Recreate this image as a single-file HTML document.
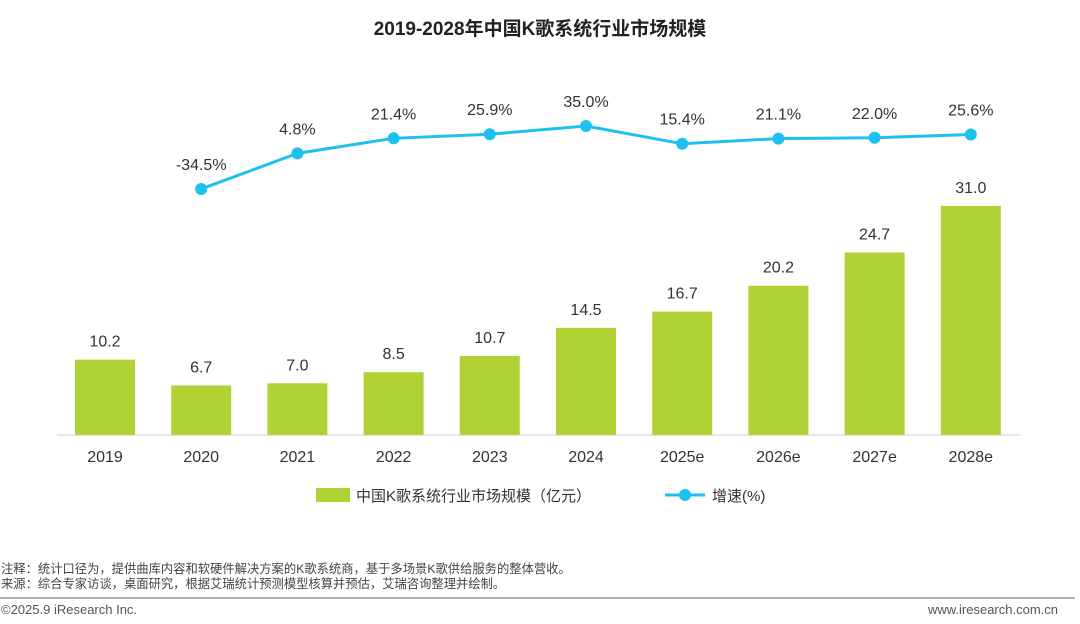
<!DOCTYPE html>
<html><head><meta charset="utf-8"><style>
body{margin:0;width:1080px;height:619px;background:#fff;overflow:hidden;font-family:"Liberation Sans","Noto Sans CJK SC",sans-serif;}
svg text{font-family:"Liberation Sans","Noto Sans CJK SC",sans-serif;}
</style></head><body>
<svg width="1080" height="619">
<text x="540" y="35" text-anchor="middle" font-size="19" font-weight="bold" fill="#222">2019-2028年中国K歌系统行业市场规模</text>
<line x1="57" y1="435" x2="1020" y2="435" stroke="#ccc"/>
<g id="bars"></g><g id="line"></g>
<g>
<rect x="316" y="488" width="34" height="14" fill="#b0d235"/>
<text x="356" y="501" font-size="15" fill="#333">中国K歌系统行业市场规模（亿元）</text>
<line x1="665" y1="495" x2="705" y2="495" stroke="#1ec0ee" stroke-width="3"/>
<circle cx="685" cy="495" r="6" fill="#1ec0ee"/>
<text x="712" y="501" font-size="15" fill="#333">增速(%)</text>
</g>
<text x="1" y="573" font-size="12.3" fill="#444">注释：统计口径为，提供曲库内容和软硬件解决方案的K歌系统商，基于多场景K歌供给服务的整体营收。</text>
<text x="1" y="588" font-size="12.3" fill="#444">来源：综合专家访谈，桌面研究，根据艾瑞统计预测模型核算并预估，艾瑞咨询整理并绘制。</text>
<line x1="0" y1="598" x2="1075" y2="598" stroke="#999" stroke-width="1.5"/>
<text x="1" y="614" font-size="13" fill="#555">©2025.9 iResearch Inc.</text>
<text x="1058" y="614" font-size="13" fill="#555" text-anchor="end">www.iresearch.com.cn</text>
</svg>
<script>
const categories=["2019","2020","2021","2022","2023","2024","2025e","2026e","2027e","2028e"];
const marketSize=[10.2,6.7,7.0,8.5,10.7,14.5,16.7,20.2,24.7,31.0];
const growth=[null,-34.5,4.8,21.4,25.9,35.0,15.4,21.1,22.0,25.6];
const NS="http://www.w3.org/2000/svg";
const xPos=i=>105+i*96.2;
const yBar=v=>435-v*7.39;
const yLine=g=>157.7-g*0.906;
function mk(tag,attrs,parent){const e=document.createElementNS(NS,tag);for(const k in attrs)e.setAttribute(k,attrs[k]);parent.appendChild(e);return e;}
const bars=document.getElementById('bars'),line=document.getElementById('line');
categories.forEach((c,i)=>{
 const r=mk('rect',{x:xPos(i)-30,y:yBar(marketSize[i]),width:60,height:435-yBar(marketSize[i]),fill:'#b0d235'},bars);
 
 
 const t=mk('text',{x:xPos(i),y:yBar(marketSize[i])-13,'text-anchor':'middle','font-size':16,fill:'#333'},bars);
 t.textContent=marketSize[i].toFixed(1);
 
 
 const xl=mk('text',{x:xPos(i),y:462,'text-anchor':'middle','font-size':16,fill:'#333'},bars);
 xl.textContent=c;
 
 
});
let pts=[];growth.forEach((g,i)=>{if(g!==null)pts.push(xPos(i)+','+yLine(g));});
const pl=mk('polyline',{points:pts.join(' '),fill:'none',stroke:'#1ec0ee','stroke-width':3},line);


growth.forEach((g,i)=>{if(g===null)return;
 const c=mk('circle',{cx:xPos(i),cy:yLine(g),r:6,fill:'#1ec0ee'},line);
 
 
 const t=mk('text',{x:xPos(i),y:yLine(g)-19,'text-anchor':'middle','font-size':16,fill:'#333'},line);
 t.textContent=g.toFixed(1)+'%';
 
 
});
</script>
</body></html>
